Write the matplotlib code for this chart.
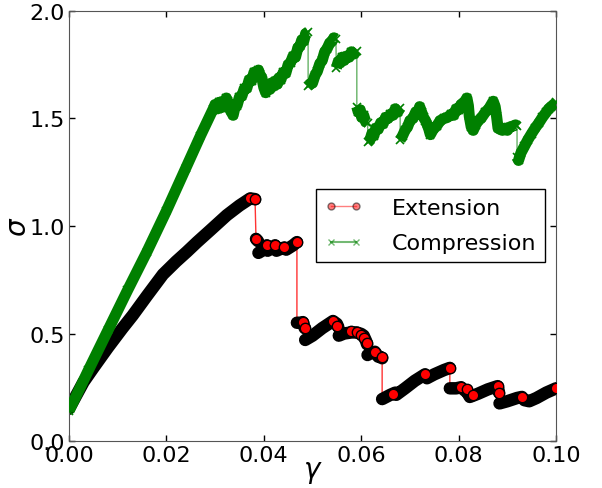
import numpy as np
import matplotlib.pyplot as plt
from matplotlib.lines import Line2D

# extension branch: vertices of the stress-strain curve (slip drops share gamma)
ext_gamma = [0.0000, 0.0030, 0.0050, 0.0080, 0.0110, 0.0131, 0.0160, 0.0193, 0.0220, 0.0242,
             0.0263, 0.0290, 0.0324, 0.0350, 0.0372, 0.0382,
             0.0384, 0.0388, 0.0389, 0.0400, 0.0406, 0.0408, 0.0418, 0.0423, 0.0426, 0.0436,
             0.0442, 0.0446, 0.0460, 0.0468,
             0.0468, 0.0475, 0.0480, 0.0484, 0.0485, 0.0500, 0.0520, 0.0542, 0.0550, 0.0553,
             0.0554, 0.0565, 0.0580, 0.0590, 0.0600, 0.0605, 0.0610, 0.0612,
             0.0613, 0.0620, 0.0628, 0.0635, 0.0640, 0.0643,
             0.0643, 0.0660, 0.0670, 0.0672, 0.0690, 0.0710, 0.0731, 0.0735, 0.0750, 0.0770, 0.0782,
             0.0782, 0.0795, 0.0805, 0.0810, 0.0818, 0.0823, 0.0840, 0.0860, 0.0880, 0.0883,
             0.0884, 0.0900, 0.0920, 0.0930, 0.0935, 0.0945, 0.0960, 0.0980, 0.1000]
ext_sigma = [0.150, 0.275, 0.340, 0.435, 0.525, 0.585, 0.675, 0.775, 0.835, 0.880,
             0.925, 0.980, 1.050, 1.095, 1.128, 1.125,
             0.940, 0.930, 0.875, 0.890, 0.910, 0.885, 0.900, 0.910, 0.885, 0.895,
             0.900, 0.890, 0.910, 0.925,
             0.550, 0.550, 0.553, 0.525, 0.470, 0.490, 0.525, 0.558, 0.545, 0.530,
             0.490, 0.500, 0.505, 0.505, 0.498, 0.490, 0.465, 0.450,
             0.400, 0.410, 0.415, 0.392, 0.390, 0.385,
             0.195, 0.215, 0.225, 0.215, 0.245, 0.280, 0.310, 0.292, 0.310, 0.330, 0.340,
             0.245, 0.245, 0.250, 0.240, 0.225, 0.205, 0.220, 0.240, 0.255, 0.225,
             0.175, 0.185, 0.200, 0.205, 0.190, 0.185, 0.200, 0.225, 0.245]

# points where single red markers stand out from the band
dot_gamma = [0.0372, 0.0382, 0.0385, 0.0406, 0.0423, 0.0442, 0.0468, 0.0480, 0.0484, 0.0542,
             0.0550, 0.0580, 0.0592, 0.0600, 0.0605, 0.0612, 0.0628, 0.0643, 0.0666, 0.0731,
             0.0782, 0.0805, 0.0818, 0.0829, 0.0880, 0.0883, 0.0930, 0.1000]
dot_sigma = [1.130, 1.125, 0.940, 0.910, 0.912, 0.900, 0.925, 0.553, 0.525, 0.558,
             0.535, 0.510, 0.505, 0.495, 0.480, 0.455, 0.415, 0.390, 0.220, 0.310,
             0.340, 0.250, 0.240, 0.215, 0.255, 0.225, 0.205, 0.245]

# compression branch
comp_gamma = [0.0000, 0.0040, 0.0080, 0.0120, 0.0160, 0.0200, 0.0240, 0.0270, 0.0296,
              0.0300, 0.0305, 0.0308, 0.0312, 0.0316, 0.0320, 0.0323, 0.0326, 0.0329, 0.0332,
              0.0337, 0.0341, 0.0345, 0.0350, 0.0355, 0.0360, 0.0365, 0.0370, 0.0375, 0.0380,
              0.0385, 0.0389, 0.0392, 0.0396, 0.0400, 0.0404, 0.0408, 0.0412, 0.0416, 0.0420,
              0.0424, 0.0428, 0.0432, 0.0435, 0.0440, 0.0445, 0.0450, 0.0455, 0.0460, 0.0465,
              0.0470, 0.0474, 0.0478, 0.0482, 0.0486, 0.0491,
              0.0491, 0.0495, 0.0500, 0.0505, 0.0510, 0.0515, 0.0520, 0.0525, 0.0530, 0.0535,
              0.0540, 0.0544, 0.0548,
              0.0549, 0.0553, 0.0557, 0.0561, 0.0565, 0.0570, 0.0575, 0.0580, 0.0585, 0.0591,
              0.0591, 0.0594, 0.0598, 0.0601, 0.0605, 0.0609, 0.0613,
              0.0614, 0.0618, 0.0622, 0.0626, 0.0630, 0.0635, 0.0640, 0.0645, 0.0650, 0.0655,
              0.0660, 0.0665, 0.0670, 0.0675, 0.0680,
              0.0680, 0.0685, 0.0690, 0.0695, 0.0700, 0.0706, 0.0712, 0.0716, 0.0720, 0.0724,
              0.0728, 0.0732, 0.0735, 0.0739, 0.0742, 0.0748, 0.0755, 0.0762, 0.0770, 0.0777,
              0.0785, 0.0790, 0.0795, 0.0800, 0.0805, 0.0810, 0.0817, 0.0820, 0.0822, 0.0826,
              0.0830, 0.0835, 0.0840, 0.0846, 0.0855, 0.0862, 0.0871, 0.0875, 0.0878, 0.0881,
              0.0885, 0.0890, 0.0895, 0.0900, 0.0905, 0.0912, 0.0917, 0.0920,
              0.0920, 0.0923, 0.0928, 0.0935, 0.0942, 0.0950, 0.0957, 0.0965, 0.0972, 0.0980,
              0.0985, 0.0990, 0.0995, 0.1000]
comp_sigma = [0.140, 0.330, 0.515, 0.700, 0.880, 1.070, 1.270, 1.420, 1.544,
              1.565, 1.545, 1.575, 1.550, 1.580, 1.560, 1.595, 1.580, 1.550, 1.535,
              1.515, 1.555, 1.560, 1.600, 1.605, 1.640, 1.640, 1.680, 1.675, 1.715,
              1.700, 1.725, 1.705, 1.690, 1.645, 1.620, 1.650, 1.635, 1.665, 1.650,
              1.675, 1.660, 1.690, 1.680, 1.715, 1.710, 1.750, 1.760, 1.790, 1.785,
              1.830, 1.835, 1.865, 1.860, 1.895, 1.900,
              1.650, 1.660, 1.665, 1.700, 1.720, 1.755, 1.770, 1.810, 1.825, 1.850,
              1.860, 1.875, 1.870,
              1.735, 1.765, 1.760, 1.785, 1.770, 1.790, 1.785, 1.810, 1.800, 1.815,
              1.555, 1.530, 1.540, 1.505, 1.515, 1.485, 1.480,
              1.390, 1.400, 1.430, 1.420, 1.455, 1.450, 1.480, 1.475, 1.505, 1.500,
              1.520, 1.515, 1.545, 1.530, 1.550,
              1.400, 1.420, 1.445, 1.460, 1.490, 1.500, 1.530, 1.525, 1.555, 1.530,
              1.505, 1.490, 1.475, 1.450, 1.425, 1.450, 1.465, 1.490, 1.500, 1.505,
              1.520, 1.515, 1.545, 1.540, 1.565, 1.570, 1.595, 1.560, 1.510, 1.460,
              1.445, 1.470, 1.490, 1.500, 1.530, 1.545, 1.580, 1.555, 1.510, 1.455,
              1.450, 1.445, 1.455, 1.445, 1.460, 1.465, 1.470, 1.465,
              1.320, 1.305, 1.340, 1.370, 1.400, 1.430, 1.455, 1.480, 1.505, 1.530,
              1.545, 1.555, 1.565, 1.575]


def split_at_drops(g, s, dmin):
    # insert gaps where the curve drops vertically, so the thick band stops there
    g = np.asarray(g)
    s = np.asarray(s)
    drop = (np.diff(g) < 2e-4) & (np.diff(s) < -dmin)
    out_g, out_s = [], []
    for i in range(len(g)):
        out_g.append(g[i])
        out_s.append(s[i])
        if i < len(drop) and drop[i]:
            out_g.append(np.nan)
            out_s.append(np.nan)
    return out_g, out_s


band_g, band_s = split_at_drops(ext_gamma, ext_sigma, 0.04)
cband_g, cband_s = split_at_drops(comp_gamma, comp_sigma, 0.08)

plt.rcParams['font.size'] = 16
fig = plt.figure(figsize=(6.02, 4.89), dpi=100)
ax = fig.add_axes([0.1146, 0.0961, 0.809, 0.8794])

ax.plot(ext_gamma, ext_sigma, color='red', lw=1, alpha=0.8, zorder=1)
ax.plot(band_g, band_s, color='black', lw=9, solid_capstyle='round',
        solid_joinstyle='round', zorder=2)
ax.plot(dot_gamma, dot_sigma, 'o', mfc='red', mec='black', mew=1, ms=7.5, zorder=3)

ax.plot(comp_gamma, comp_sigma, color='green', lw=1, alpha=0.6, zorder=4)
ax.plot(cband_g, cband_s, color='green', lw=8, solid_joinstyle='round',
        solid_capstyle='butt', zorder=4)
ax.plot(comp_gamma, comp_sigma, 'x', color='green', ms=6, mew=1.2, zorder=4)

ax.set_xlim(0, 0.1)
ax.set_ylim(0, 2.0)
ax.set_xticks([0.0, 0.02, 0.04, 0.06, 0.08, 0.10])
ax.set_yticks([0.0, 0.5, 1.0, 1.5, 2.0])
ax.set_xticklabels(['0.00', '0.02', '0.04', '0.06', '0.08', '0.10'])
ax.set_yticklabels(['0.0', '0.5', '1.0', '1.5', '2.0'])
ax.tick_params(direction='in', top=True, right=True, length=4, width=1, pad=3)
for sp in ax.spines.values():
    sp.set_color('#555555')
ax.set_xlabel(r'$\gamma$', fontsize=20, labelpad=-6)
ax.set_ylabel(r'$\sigma$', fontsize=20, labelpad=-2)

handles = [
    Line2D([], [], color='red', lw=1, alpha=0.5, marker='o', mfc='red', mec='black', ms=5),
    Line2D([], [], color='green', lw=1.5, alpha=0.55, marker='x', mec='green', ms=5),
]
ax.legend(handles, ['Extension', 'Compression'], loc='upper right',
          bbox_to_anchor=(0.977, 0.586), borderaxespad=0, fancybox=False,
          edgecolor='black', framealpha=1, fontsize=16, handlelength=1.7,
          handletextpad=1.3, labelspacing=0.7, numpoints=2, borderpad=0.4)

fig.savefig('out.png', dpi=100)
